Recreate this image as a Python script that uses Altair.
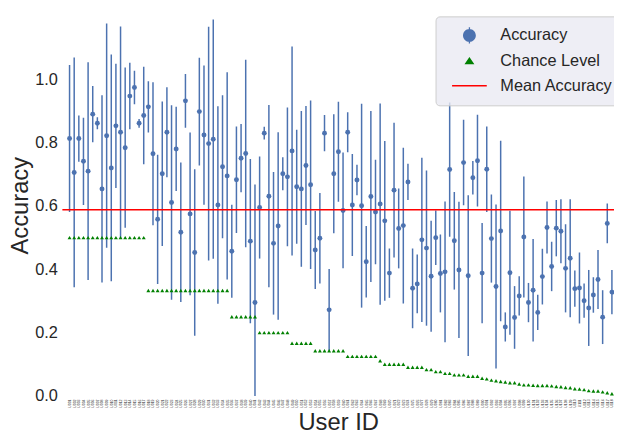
import altair as alt
import pandas as pd

# ---------------- data ----------------
USER_IDS = [f"U{n:03d}" for n in range(1, 119)]

ACCURACY = [
    0.813, 0.706, 0.813, 0.741, 0.710, 0.890, 0.861, 0.654, 0.822, 0.720,
    0.853, 0.833, 0.784, 0.947, 0.974, 0.861, 0.886, 0.913, 0.765, 0.558,
    0.702, 0.833, 0.611, 0.780, 0.517, 0.932, 0.575, 0.453,
    0.898, 0.824, 0.797, 0.811, 0.603, 0.724, 0.695, 0.457, 0.683, 0.751,
    0.766, 0.489, 0.295, 0.595, 0.830, 0.631, 0.482, 0.537, 0.702, 0.692,
    0.774, 0.661, 0.654, 0.728, 0.667, 0.461, 0.498, 0.830,
    0.272, 0.702, 0.771, 0.586, 0.833, 0.603, 0.682, 0.601, 0.424, 0.630,
    0.581, 0.606, 0.553, 0.388, 0.650, 0.529, 0.538, 0.676, 0.340, 0.354,
    0.493, 0.467, 0.378, 0.500, 0.387, 0.392, 0.715, 0.490,
    0.398, 0.737, 0.380, 0.689, 0.743, 0.388, 0.716, 0.497, 0.346, 0.521,
    0.218, 0.389, 0.248, 0.316, 0.502, 0.295, 0.334, 0.264, 0.377, 0.532,
    0.409, 0.530, 0.520, 0.403, 0.435, 0.339, 0.341, 0.301, 0.278, 0.319,
    0.368, 0.249, 0.545, 0.328,
]

ACC_STD = [
    0.232, 0.363, 0.073, 0.138, 0.344, 0.089, 0.019, 0.296, 0.354, 0.358,
    0.196, 0.334, 0.253, 0.105, 0.053, 0.014, 0.154, 0.081, 0.226, 0.204,
    0.228, 0.142, 0.307, 0.133, 0.220, 0.085, 0.257, 0.263,
    0.170, 0.220, 0.369, 0.378, 0.312, 0.226, 0.327, 0.147, 0.168, 0.108,
    0.296, 0.259, 0.373, 0.161, 0.020, 0.288, 0.225, 0.296, 0.052, 0.219,
    0.330, 0.180, 0.246, 0.188, 0.266, 0.123, 0.143, 0.057,
    0.129, 0.188, 0.158, 0.183, 0.063, 0.161, 0.048, 0.322, 0.113, 0.270,
    0.165, 0.318, 0.252, 0.078, 0.213, 0.126, 0.246, 0.057, 0.126, 0.093,
    0.259, 0.245, 0.175, 0.086, 0.123, 0.222, 0.212, 0.154,
    0.215, 0.135, 0.254, 0.053, 0.145, 0.158, 0.135, 0.139, 0.259, 0.285,
    0.046, 0.196, 0.099, 0.062, 0.191, 0.062, 0.162, 0.056, 0.088, 0.082,
    0.078, 0.089, 0.101, 0.139, 0.186, 0.057, 0.112, 0.054, 0.120, 0.056,
    0.093, 0.085, 0.063, 0.070,
]

CHANCE = (
    [0.5] * 17 + [0.3333] * 18 + [0.25] * 6 + [0.2] * 7 + [0.1667] * 5
    + [0.1429] * 7 + [0.125] * 7 + [0.1111] * 1 + [0.1] * 5 + [0.0909] * 4
    + [0.0833] * 2 + [0.0769] * 2 + [0.0714] * 2 + [0.0667] * 3 + [0.0625] * 3
    + [0.056, 0.054, 0.050, 0.048, 0.046, 0.044, 0.042, 0.042, 0.038, 0.035,
       0.035, 0.034, 0.033, 0.033, 0.033, 0.032, 0.030, 0.029, 0.027, 0.026,
       0.023, 0.022, 0.020, 0.017, 0.016, 0.016, 0.013, 0.010, 0.007]
)

MEAN_ACCURACY = 0.588

SERIES = ["Accuracy", "Chance Level", "Mean Accuracy"]
SERIES_COLORS = ["#4c72b0", "#008000", "#ff0000"]

# ---------------- styling ----------------
FONT = "Liberation Sans, Arial, sans-serif"
TEXT = "#262626"
BLUE = "#4c72b0"

LEGEND_SHAPES = [
    "M1,0A1,1,0,1,1,-1,0A1,1,0,1,1,1,0Z M-0.1,-1.25H0.1V-0.9H-0.1Z "
    "M-0.1,0.9H0.1V1.25H-0.1Z M-2.7,0H2.7",
    "M0,-0.55L0.77,0.55L-0.77,0.55Z M-2.7,0H2.7",
    "M-2.7,-0.12H2.7V0.12H-2.7Z",
]

df = pd.DataFrame({
    "user": USER_IDS,
    "acc": ACCURACY,
    "std": ACC_STD,
    "chance": CHANCE,
})

x_enc = alt.X(
    "user:N",
    sort=USER_IDS,
    scale=alt.Scale(type="point", domain=USER_IDS, padding=1.286, align=0.775),
    axis=alt.Axis(
        title="User ID", labelFontSize=3.5, labelAngle=270, labelPadding=3,
        labelOverlap=False, labelColor=TEXT, titleFontSize=24, titlePadding=4,
        grid=True,
    ),
)

y_scale = alt.Scale(domain=[0, 1.205], nice=False, zero=False)
y_axis = alt.Axis(
    title="Accuracy", values=[0, 0.2, 0.4, 0.6, 0.8, 1.0], format=".1f",
    labelFontSize=16.5, labelPadding=5, labelColor=TEXT,
    titleFontSize=24, titlePadding=2, grid=True,
)

base = alt.Chart(df)

bars = base.transform_calculate(
    lo="datum.acc - datum.std", hi="datum.acc + datum.std"
).mark_rule(color=BLUE, strokeWidth=1.5, clip=True).encode(
    x=x_enc,
    y=alt.Y("lo:Q", scale=y_scale, axis=y_axis),
    y2="hi:Q",
)

points = base.mark_circle(color=BLUE, size=25, opacity=1).encode(
    x=x_enc,
    y=alt.Y("acc:Q", scale=y_scale, axis=y_axis),
)

chance = base.mark_point(
    shape="triangle-up", filled=True, color="#008000", size=16, opacity=1
).encode(
    x=x_enc,
    y=alt.Y("chance:Q", scale=y_scale, axis=y_axis),
)

mean_line = alt.Chart(pd.DataFrame({"mean": [MEAN_ACCURACY]})).mark_rule(
    color="#ff0000", strokeWidth=1.5
).encode(
    y=alt.Y("mean:Q", scale=y_scale, axis=y_axis),
)

legend_props = dict(
    title=None, orient="none", legendX=377.5, legendY=2, padding=11,
    fillColor="rgba(234,234,242,0.8)", strokeColor="#cccccc", cornerRadius=4,
    labelFontSize=16.5, labelColor=TEXT, labelFont=FONT, symbolSize=169,
    symbolStrokeWidth=0, symbolOffset=15, labelOffset=23, rowPadding=8.5,
    symbolOpacity=1,
)

legend_layer = alt.Chart(pd.DataFrame({"series": SERIES})).mark_point(
    filled=True, opacity=1
).encode(
    color=alt.Color(
        "series:N", scale=alt.Scale(domain=SERIES, range=SERIES_COLORS),
        legend=alt.Legend(**legend_props),
    ),
    shape=alt.Shape(
        "series:N", scale=alt.Scale(domain=SERIES, range=LEGEND_SHAPES),
        legend=alt.Legend(**legend_props),
    ),
).transform_filter("false")

chart = alt.layer(bars, points, chance, mean_line, legend_layer).properties(
    width=558,
    height=386,
    autosize="none",
    padding={"left": 55, "top": 4, "right": 0, "bottom": 38},
    background="white",
).configure_view(
    fill="#EAEAF2", strokeWidth=0
).configure_axis(
    domain=False, ticks=False, gridColor="white", gridWidth=1,
    labelFont=FONT, titleFont=FONT, titleColor=TEXT, titleFontWeight="normal",
)

chart.save("out.html", embed_options={"renderer": "svg", "actions": False})
